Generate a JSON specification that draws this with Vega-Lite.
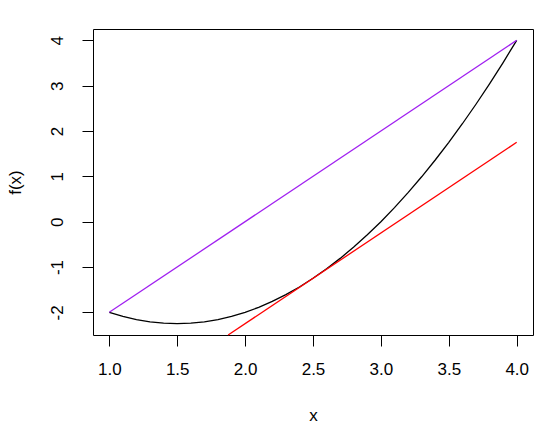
{
  "$schema": "https://vega.github.io/schema/vega-lite/v6.json",
  "width": 440,
  "height": 306,
  "autosize": {"type": "none"},
  "padding": {"left": 93, "top": 29, "right": 27, "bottom": 99},
  "background": "white",
  "config": {
    "view": {"stroke": "#000000", "strokeWidth": 1},
    "font": "Liberation Sans",
    "axis": {
      "domain": false,
      "grid": false,
      "tickColor": "#000000",
      "tickSize": 11,
      "tickWidth": 1,
      "labelFont": "Liberation Sans",
      "labelFontSize": 17,
      "labelColor": "#000000",
      "titleFont": "Liberation Sans",
      "titleFontSize": 17,
      "titleFontWeight": "normal",
      "titleColor": "#000000"
    }
  },
  "datasets": {
    "curve": [
      {"x": 1.0, "y": -2.0}, {"x": 1.1, "y": -2.09}, {"x": 1.2, "y": -2.16}, {"x": 1.3, "y": -2.21},
      {"x": 1.4, "y": -2.24}, {"x": 1.5, "y": -2.25}, {"x": 1.6, "y": -2.24}, {"x": 1.7, "y": -2.21},
      {"x": 1.8, "y": -2.16}, {"x": 1.9, "y": -2.09}, {"x": 2.0, "y": -2.0}, {"x": 2.1, "y": -1.89},
      {"x": 2.2, "y": -1.76}, {"x": 2.3, "y": -1.61}, {"x": 2.4, "y": -1.44}, {"x": 2.5, "y": -1.25},
      {"x": 2.6, "y": -1.04}, {"x": 2.7, "y": -0.81}, {"x": 2.8, "y": -0.56}, {"x": 2.9, "y": -0.29},
      {"x": 3.0, "y": 0.0}, {"x": 3.1, "y": 0.31}, {"x": 3.2, "y": 0.64}, {"x": 3.3, "y": 0.99},
      {"x": 3.4, "y": 1.36}, {"x": 3.5, "y": 1.75}, {"x": 3.6, "y": 2.16}, {"x": 3.7, "y": 2.59},
      {"x": 3.8, "y": 3.04}, {"x": 3.9, "y": 3.51}, {"x": 4.0, "y": 4.0}
    ],
    "secant": [{"x": 1.0, "y": -2.0}, {"x": 4.0, "y": 4.0}],
    "tangent": [{"x": 1.875, "y": -2.5}, {"x": 4.0, "y": 1.75}]
  },
  "encoding": {
    "x": {
      "field": "x", "type": "quantitative",
      "scale": {"domain": [0.88, 4.12], "nice": false, "zero": false},
      "axis": {"title": "x", "values": [1, 1.5, 2, 2.5, 3, 3.5, 4], "format": ".1f", "labelPadding": 15, "titlePadding": 30}
    },
    "y": {
      "field": "y", "type": "quantitative",
      "scale": {"domain": [-2.5, 4.25], "nice": false, "zero": false},
      "axis": {"title": "f(x)", "values": [-2, -1, 0, 1, 2, 3, 4], "labelExpr": "'' + datum.value", "labelAngle": -90, "labelAlign": "center", "labelBaseline": "bottom", "labelPadding": 16, "titlePadding": 24}
    }
  },
  "layer": [
    {"data": {"name": "curve"}, "mark": {"type": "line", "color": "#000000", "strokeWidth": 1.3}},
    {"data": {"name": "secant"}, "mark": {"type": "line", "color": "#A020F0", "strokeWidth": 1.3}},
    {"data": {"name": "tangent"}, "mark": {"type": "line", "color": "#FF0000", "strokeWidth": 1.3}}
  ]
}
